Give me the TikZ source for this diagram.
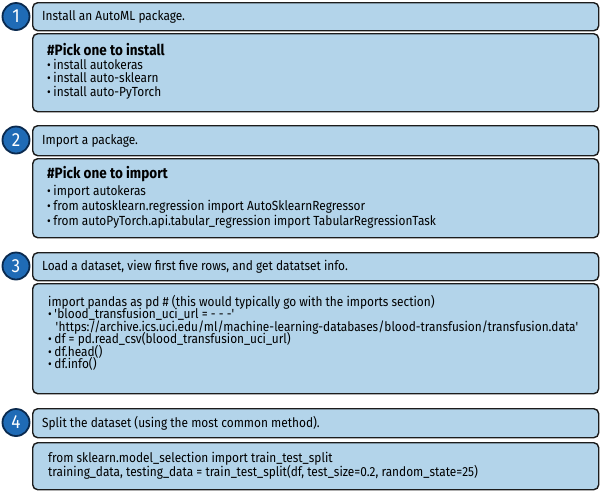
\documentclass[tikz,border=0pt]{standalone}
\usepackage{graphicx}
\usepackage{fontspec}
\setmainfont{Fira Sans}[FakeStretch=0.9]
\definecolor{boxfill}{HTML}{B3D4EA}
\definecolor{boxline}{HTML}{1C1C1C}
\definecolor{circfill}{HTML}{1F6BB6}
\definecolor{circline}{HTML}{0A2A4F}
\newcommand{\bul}{\scalebox{0.95}{•}\hspace{0.2em}}
\tikzset{
  panel/.style={draw=boxline, line width=1.4pt, fill=boxfill, rounded corners=5pt,
    anchor=north west, minimum width=566pt, inner sep=0pt},
  numdisc/.style={circle, draw=circline, line width=1.8pt, fill=circfill, text=white,
    minimum size=27pt, inner sep=0pt, font=\fontsize{19}{19}\selectfont},
  txt/.style={anchor=base west, inner sep=0pt, font=\fontsize{13.2}{13.5}\selectfont},
  ttl/.style={anchor=base west, inner sep=0pt, font=\fontsize{15}{15}\selectfont\bfseries}
}
\begin{document}
\begin{tikzpicture}[x=1pt,y=-1pt]
\useasboundingbox (0,0) rectangle (600,491);
% ---- row 1
\node[panel, minimum height=28pt] (h1) at (32,2) {};
\node[panel, minimum height=78pt] (b1) at (32,33) {};
\node[numdisc] (n1) at (16,16.5) {1};
\node[txt] (h1t) at (42,20.5) {Install an AutoML package.};
\node[ttl] (b1t) at (47,55.5) {\#Pick one to install};
\node[txt] (b1a) at (47,69) {\bul install autokeras};
\node[txt] (b1b) at (47,82.8) {\bul install auto-sklearn};
\node[txt] (b1c) at (47,96.3) {\bul install auto-PyTorch};
% ---- row 2
\node[panel, minimum height=30pt] (h2) at (32,125) {};
\node[panel, minimum height=79pt] (b2) at (32,158) {};
\node[numdisc] (n2) at (16,140) {2};
\node[txt] (h2t) at (42,144.5) {Import a package.};
\node[ttl] (b2t) at (47,178.5) {\#Pick one to import};
\node[txt] (b2a) at (47,195.2) {\bul import autokeras};
\node[txt] (b2b) at (47,210.5) {\bul from autosklearn.regression import AutoSklearnRegressor};
\node[txt] (b2c) at (47,225.2) {\bul from autoPyTorch.api.tabular\_regression import TabularRegressionTask};
% ---- row 3
\node[panel, minimum height=28pt] (h3) at (32,252) {};
\node[panel, minimum height=110pt] (b3) at (32,283) {};
\node[numdisc] (n3) at (16,266) {3};
\node[txt] (h3t) at (42,270.5) {Load a dataset, view first five rows, and get datatset info.};
\node[txt] (b3a) at (48,306.5) {import pandas as pd \# (this would typically go with the imports section)};
\node[txt] (b3b) at (48,318.8) {\bul \textquotesingle blood\_transfusion\_uci\_url = - - -\textquotesingle};
\node[txt] (b3c) at (55.5,331.3) {\textquotesingle https://archive.ics.uci.edu/ml/machine-learning-databases/blood-transfusion/transfusion.data\textquotesingle};
\node[txt] (b3d) at (48,343.8) {\bul df = pd.read\_csv(blood\_transfusion\_uci\_url)};
\node[txt] (b3e) at (48,356.3) {\bul df.head()};
\node[txt] (b3f) at (48,368.8) {\bul df.info()};
% ---- row 4
\node[panel, minimum height=29pt] (h4) at (32,408) {};
\node[panel, minimum height=47pt] (b4) at (32,442) {};
\node[numdisc] (n4) at (16,422.5) {4};
\node[txt] (h4t) at (42,427) {Split the dataset (using the most common method).};
\node[txt] (b4a) at (48,462.5) {from sklearn.model\_selection import train\_test\_split};
\node[txt] (b4b) at (48,476.5) {training\_data, testing\_data = train\_test\_split(df, test\_size=0.2, random\_state=25)};
\end{tikzpicture}
\end{document}
